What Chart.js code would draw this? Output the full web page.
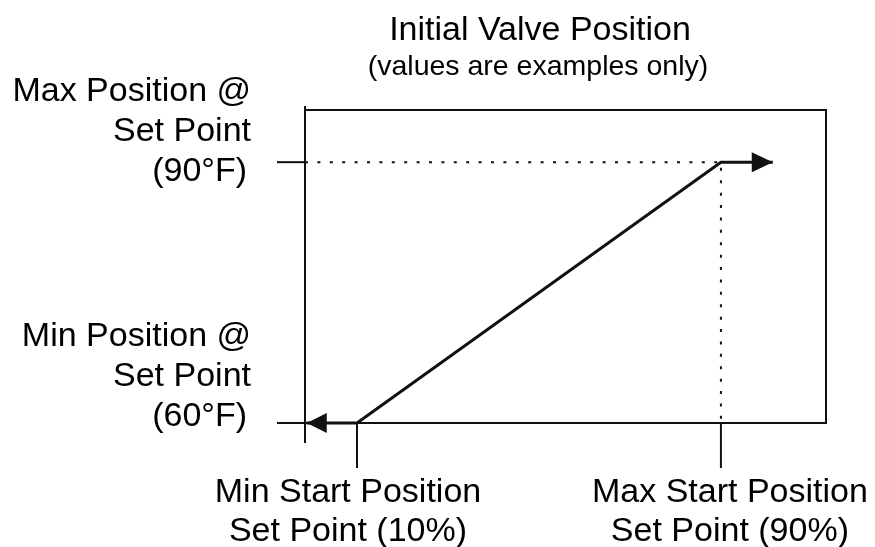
<!DOCTYPE html>
<html>
<head>
<meta charset="utf-8">
<title>Initial Valve Position</title>
<script src="https://cdn.jsdelivr.net/npm/chart.js@4.4.1/dist/chart.umd.min.js"></script>
<style>
  html, body { margin: 0; padding: 0; background: #fff; }
  #wrap { width: 875px; height: 547px; position: relative; }
</style>
</head>
<body>
<div id="wrap"><canvas id="valve-chart"></canvas></div>
<script>
// x = start position set point (%), y = set point temperature (°F)
const xTicks = [10, 90];
const xTickLabels = [
  ["Min Start Position", "Set Point (10%)"],
  ["Max Start Position", "Set Point (90%)"],
];
const yTicks = [60, 90];
const yTickLabels = [
  ["Min Position @", "Set Point", "(60°F)"],
  ["Max Position @", "Set Point", "(90°F)"],
];

// ramp with arrow ends
const rampX = [-1.05, 10, 90, 101.4];
const rampY = [60, 60, 90, 90];

// dotted guide lines to the 90% / 90°F corner
const guideX = [-1.43, 90, 90];
const guideY = [90, 90, 60];

const titleText = "Initial Valve Position";
const subtitleText = "(values are examples only)";

const ink = "#111";
const fontFamily = '"Liberation Sans", Arial, sans-serif';

function toPoints(xs, ys) {
  return xs.map((x, i) => ({ x: x, y: ys[i] }));
}

function drawArrowHead(ctx, tip, from, len, half) {
  const dx = tip.x - from.x;
  const dy = tip.y - from.y;
  const d = Math.hypot(dx, dy) || 1;
  const ux = dx / d;
  const uy = dy / d;
  const bx = tip.x - ux * len;
  const by = tip.y - uy * len;
  ctx.beginPath();
  ctx.moveTo(tip.x, tip.y);
  ctx.lineTo(bx - uy * half, by + ux * half);
  ctx.lineTo(bx + uy * half, by - ux * half);
  ctx.closePath();
  ctx.fill();
}

const framePlugin = {
  id: "frame",
  beforeDatasetsDraw(chart) {
    const { ctx, chartArea } = chart;
    const xs = chart.scales.x;
    const ys = chart.scales.y;
    ctx.save();
    ctx.strokeStyle = ink;
    ctx.lineWidth = 2;
    ctx.lineCap = "butt";

    // box
    ctx.strokeRect(chartArea.left, chartArea.top, chartArea.width, chartArea.height);
    // left axis runs a little past the box
    ctx.beginPath();
    ctx.moveTo(chartArea.left, chartArea.top - 4);
    ctx.lineTo(chartArea.left, chartArea.bottom + 20);
    ctx.stroke();

    // y ticks
    yTicks.forEach((v) => {
      const py = ys.getPixelForValue(v);
      ctx.beginPath();
      ctx.moveTo(chartArea.left - 28, py);
      ctx.lineTo(chartArea.left, py);
      ctx.stroke();
    });
    // x ticks
    xTicks.forEach((v) => {
      const px = xs.getPixelForValue(v);
      ctx.beginPath();
      ctx.moveTo(px, chartArea.bottom);
      ctx.lineTo(px, chartArea.bottom + 45);
      ctx.stroke();
    });

    ctx.fillStyle = "#000";
    ctx.font = "34px " + fontFamily;

    // y labels, right aligned
    const yShift = [3, 19];
    ctx.textAlign = "right";
    ctx.textBaseline = "alphabetic";
    yTicks.forEach((v, i) => {
      const py = ys.getPixelForValue(v);
      const lines = yTickLabels[i];
      lines.forEach((line, j) => {
        const base = py + yShift[i] - (lines.length - 1 - j) * 40;
        const x = j === lines.length - 1 ? chartArea.left - 58 : chartArea.left - 54;
        ctx.fillText(line, x, base);
      });
    });

    // x labels, centered near the ticks
    const xShift = [-9, 9];
    ctx.textAlign = "center";
    xTicks.forEach((v, i) => {
      const px = xs.getPixelForValue(v) + xShift[i];
      xTickLabels[i].forEach((line, j) => {
        ctx.fillText(line, px, chartArea.bottom + 79 + j * 39);
      });
    });

    // title + subtitle
    ctx.font = "34px " + fontFamily;
    ctx.fillText(titleText, 540, 40);
    ctx.font = "28.5px " + fontFamily;
    ctx.fillText(subtitleText, 538, 75);
    ctx.restore();
  },
};

const arrowPlugin = {
  id: "arrows",
  afterDatasetsDraw(chart) {
    const pts = chart.getDatasetMeta(0).data;
    if (pts.length < 2) return;
    const { ctx } = chart;
    ctx.save();
    ctx.fillStyle = ink;
    const n = pts.length;
    drawArrowHead(ctx, pts[n - 1], pts[n - 2], 21, 10);
    drawArrowHead(ctx, pts[0], pts[1], 20, 10);
    ctx.restore();
  },
};

new Chart(document.getElementById("valve-chart"), {
  type: "line",
  data: {
    datasets: [
      {
        label: "Valve position",
        data: toPoints(rampX, rampY),
        borderColor: ink,
        borderWidth: 3,
        pointRadius: 0,
        tension: 0,
        clip: false,
      },
      {
        label: "Guide",
        data: toPoints(guideX, guideY),
        borderColor: ink,
        borderWidth: 2,
        borderDash: [3, 9.4],
        borderCapStyle: "butt",
        pointRadius: 0,
        tension: 0,
        clip: false,
      },
    ],
  },
  options: {
    responsive: true,
    maintainAspectRatio: false,
    animation: false,
    layout: { padding: { left: 305, right: 49, top: 110, bottom: 124 } },
    scales: {
      x: { type: "linear", min: -1.43, max: 113.1, display: false },
      y: { type: "linear", min: 60, max: 96, display: false },
    },
    plugins: {
      legend: { display: false },
      tooltip: { enabled: false },
    },
  },
  plugins: [framePlugin, arrowPlugin],
});
</script>
</body>
</html>
